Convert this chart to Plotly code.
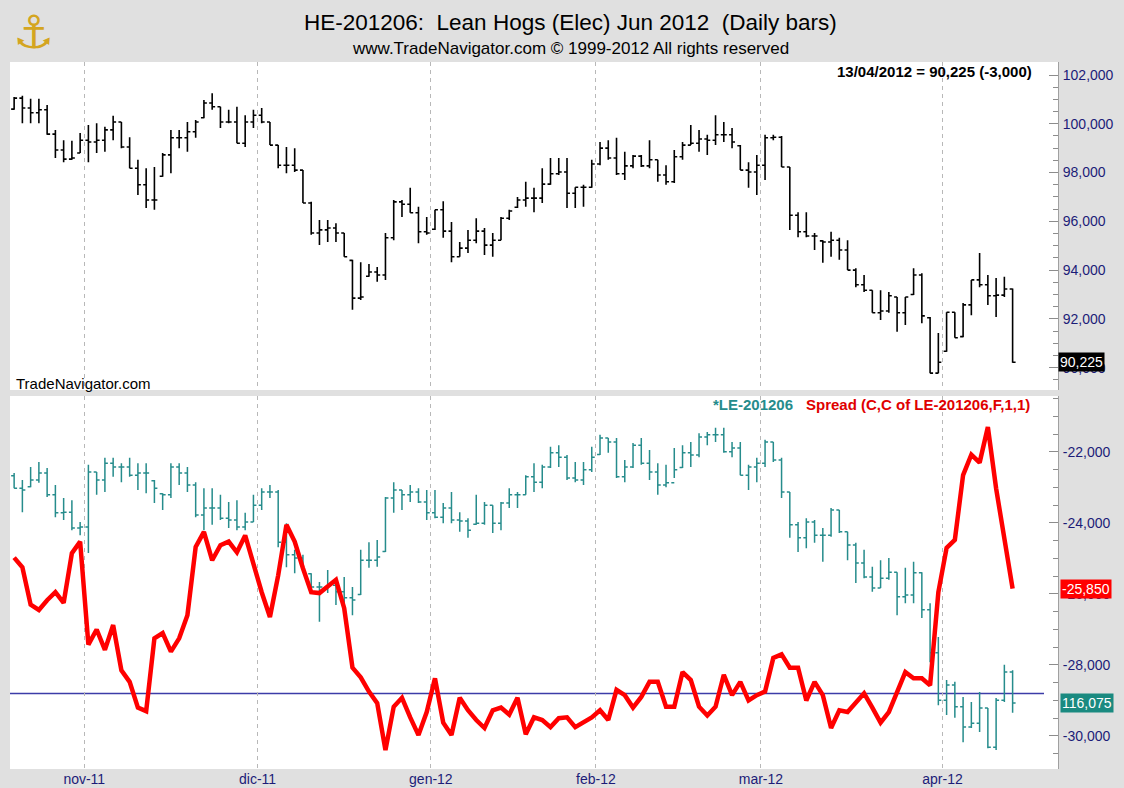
import plotly.graph_objects as go
import pandas as pd

# ---------------- data ----------------
START_DATE = "2011-10-19"
END_DATE = "2012-04-13"
HOLIDAYS = ["2011-11-24", "2011-12-26", "2012-01-02", "2012-01-16", "2012-02-20", "2012-04-06"]
MONTH_LABELS = ["nov-11", "dic-11", "gen-12", "feb-12", "mar-12", "apr-12"]

HE_OPEN = [100600, 101050, 100650, 100450, 100575, 99575, 98925, 98550, 98800, 99325,
           99250, 99325, 99750, 100075, 99050, 98175, 97500, 96875, 97850, 98725,
           99425, 99425, 99675, 100250, 100850, 100700, 100075, 100075, 99200, 100075,
           100350, 100075, 99125, 98300, 98300, 98100, 96750, 95525, 95650, 95725,
           95525, 94400, 92850, 93750, 93925, 93800, 95325, 96800, 96700, 96350,
           95575, 95675, 96475, 95600, 94550, 94900, 95225, 95600, 95025, 95225,
           96125, 96575, 96875, 96950, 96950, 97525, 97950, 98025, 97150, 97400,
           97400, 98350, 99000, 98600, 97950, 98275, 98675, 98275, 98525, 97900,
           97625, 98650, 99125, 99200, 99375, 99325, 99550, 99550, 99100, 98100,
           98025, 98300, 99425, 99450, 98225, 96250, 95575, 95400, 95200, 95150,
           95225, 94825, 94000, 93400, 93175, 92250, 92325, 92900, 92250, 93000,
           93800, 92050, 89775, 90675, 92275, 91275, 92575, 93600, 93400, 92950,
           92975, 93225]
HE_HIGH = [101100, 101150, 101025, 101025, 100775, 99750, 99325, 99300, 99625, 99950,
           100025, 99875, 100325, 100075, 99450, 98525, 98175, 98225, 98800, 99750,
           99750, 100075, 100150, 100975, 101250, 100700, 100575, 100700, 100350, 100575,
           100650, 100075, 99125, 99050, 99000, 98100, 96800, 96050, 96050, 95925,
           95525, 94425, 94325, 94250, 94125, 95525, 96875, 96875, 97375, 96600,
           96175, 96475, 96825, 95975, 95150, 95650, 96125, 95725, 95525, 96175,
           96475, 97000, 97625, 97375, 98175, 98600, 98600, 98600, 97400, 97500,
           98525, 99250, 99325, 99425, 98850, 98725, 98725, 99325, 98525, 98300,
           98925, 99250, 99950, 99750, 99550, 100350, 100075, 99825, 99125, 98425,
           98725, 99550, 99550, 99500, 98225, 96375, 96375, 95525, 95225, 95575,
           95325, 95225, 94075, 93800, 93175, 93175, 93100, 92900, 92900, 94075,
           93875, 92075, 91425, 92275, 92275, 92650, 93600, 94700, 93800, 93675,
           93725, 93250]
HE_LOW = [100575, 100025, 100025, 100025, 99550, 98600, 98425, 98525, 98800, 98425,
          98800, 98850, 99325, 99000, 98175, 97075, 96550, 96475, 97825, 97975,
          99000, 98850, 99425, 100225, 100575, 99825, 100025, 99200, 99050, 99825,
          100025, 99125, 98175, 97975, 98025, 96750, 95450, 95025, 95150, 95150,
          94550, 92375, 92775, 93725, 93525, 93600, 95225, 96175, 96350, 95100,
          95450, 95650, 95325, 94325, 94550, 94700, 95100, 94625, 94550, 95225,
          96050, 96550, 96600, 96375, 96750, 97500, 97900, 96550, 96550, 96600,
          97375, 98300, 98525, 97900, 97700, 98175, 98225, 98175, 97625, 97500,
          97575, 98525, 99125, 98850, 98725, 99125, 99250, 99000, 98100, 97375,
          97075, 97700, 99325, 98225, 95650, 95350, 95350, 94825, 94300, 94550,
          94425, 94000, 93300, 93100, 92250, 91950, 92250, 91475, 91750, 92975,
          91825, 89775, 89775, 90650, 91225, 91250, 92150, 93300, 92575, 92075,
          92900, 90200]
HE_CLOSE = [101050, 100650, 100450, 100575, 99575, 98925, 98550, 98600, 99325, 99250,
            99325, 99750, 100075, 99050, 98175, 97500, 96875, 96875, 98725, 99425,
            99425, 99675, 100075, 100850, 100700, 100075, 100075, 99200, 100075, 100350,
            100075, 99125, 98300, 98300, 98100, 96750, 95525, 95650, 95725, 95525,
            94550, 92850, 92900, 93925, 93800, 95325, 96800, 96700, 96350, 95575,
            95525, 96475, 95600, 94550, 94900, 95225, 95600, 95025, 95225, 96125,
            96425, 96875, 96950, 96950, 97525, 97950, 98025, 97150, 97400, 97400,
            98350, 99000, 98600, 97950, 98275, 98675, 98275, 98525, 97900, 97625,
            98650, 99125, 99200, 99375, 99325, 99550, 99550, 99250, 98100, 98025,
            98300, 99425, 99450, 98225, 96250, 95575, 95400, 95400, 95150, 95225,
            94825, 94000, 93400, 93175, 92250, 92325, 92950, 92250, 92900, 93800,
            92125, 89775, 90225, 92275, 91225, 92575, 93600, 93400, 92950, 92975,
            93225, 90225]

LE_OPEN = [126500, 125925, 126000, 126300, 126625, 125625, 124800, 124825, 124100, 124150,
           126675, 126300, 127075, 126900, 126900, 126525, 126625, 126275, 125675, 125625,
           126900, 126625, 126075, 124700, 125025, 125025, 124550, 124475, 124150, 124375,
           125150, 125750, 125750, 123450, 122875, 122725, 122000, 121400, 121400, 121475,
           121175, 120900, 121050, 122625, 122625, 123025, 125475, 125850, 125625, 125750,
           125300, 124800, 124600, 125025, 124475, 124425, 124275, 124325, 125150, 124325,
           125250, 125625, 125625, 126450, 126200, 126900, 127550, 127350, 126400, 126300,
           126775, 127475, 128225, 128050, 126450, 126900, 127900, 127075, 126675, 126075,
           126175, 126875, 127550, 127450, 128275, 128375, 128375, 127600, 127775, 126525,
           126900, 127075, 128050, 127225, 125750, 124250, 123650, 124375, 123775, 123775,
           124925, 123925, 123325, 122500, 121850, 121350, 121800, 122075, 120950, 121025,
           122050, 120350, 118375, 116200, 116900, 115900, 114975, 115150, 115850, 114050,
           116200, 117500]
LE_HIGH = [126625, 126300, 126900, 127125, 126850, 126075, 125475, 125375, 124375, 127000,
           126675, 127325, 127325, 127075, 127325, 127075, 127075, 126300, 125700, 127075,
           127075, 126900, 126200, 125925, 125925, 125625, 125300, 125375, 124800, 125625,
           125925, 126075, 125850, 124325, 123100, 122875, 122025, 121625, 122175, 121725,
           121850, 121400, 123100, 123450, 123550, 125525, 126200, 125850, 126075, 125925,
           125850, 125850, 125250, 125750, 124825, 124550, 125625, 125300, 125150, 125300,
           125925, 125750, 126525, 127075, 127000, 127825, 127900, 127450, 127125, 127125,
           127825, 128375, 128225, 128225, 127225, 128000, 128225, 127675, 127075, 127000,
           127775, 127900, 128050, 128450, 128500, 128700, 128700, 128050, 128050, 127000,
           127325, 128150, 128050, 127325, 125750, 124375, 124550, 124475, 124100, 125025,
           124925, 123925, 123425, 123100, 122325, 122625, 122725, 122075, 122275, 122550,
           122075, 120650, 119100, 117125, 117050, 116350, 116125, 116575, 115850, 116300,
           117825, 117575]
LE_LOW = [125925, 124825, 125975, 126175, 125525, 124600, 124475, 124000, 123775, 122950,
          125625, 125750, 126450, 126200, 126450, 125850, 125700, 125250, 124925, 125475,
          126075, 125750, 124600, 124000, 124250, 124475, 124100, 124000, 124000, 124375,
          124925, 125475, 123225, 122300, 122025, 122075, 121350, 119800, 121125, 120575,
          120200, 120100, 121025, 122275, 122325, 123000, 124800, 124925, 125300, 125250,
          124475, 124550, 124325, 124325, 123925, 123650, 124250, 124250, 123875, 124000,
          125025, 125025, 125625, 125750, 125925, 126850, 126900, 126300, 126200, 126075,
          126675, 127450, 127550, 126400, 126200, 126850, 127000, 126300, 125625, 125975,
          126400, 126850, 126900, 127350, 127900, 128050, 127550, 127350, 126525, 125850,
          126200, 126900, 127125, 125475, 123650, 123000, 123175, 123425, 122550, 123700,
          123875, 122625, 121575, 121800, 121175, 121350, 121725, 120100, 120650, 120650,
          119975, 117950, 115975, 115525, 115400, 114275, 114925, 114750, 114000, 113925,
          116125, 115625]
LE_CLOSE = [125925, 125850, 126300, 126625, 125625, 124800, 124825, 124100, 124150, 126675,
            126300, 127075, 126900, 126900, 126525, 126625, 126625, 125925, 125625, 126900,
            126625, 126075, 124700, 125025, 125025, 124550, 124475, 124150, 124375, 125150,
            125750, 125750, 123450, 122875, 122725, 122075, 121400, 121400, 121475, 121175,
            120900, 120800, 122625, 122625, 122775, 125475, 125850, 125625, 125750, 125300,
            124800, 124600, 125025, 124475, 124425, 124000, 124325, 125150, 124325, 125250,
            125625, 125625, 126450, 126200, 126900, 127550, 127350, 126400, 126300, 126775,
            127350, 128225, 128050, 126450, 126900, 127900, 127075, 126675, 126075, 126175,
            126775, 127550, 127450, 128275, 128375, 128375, 127600, 127775, 126525, 126900,
            127075, 128050, 127225, 125750, 124250, 123650, 124375, 123775, 123775, 124925,
            123925, 123325, 122500, 121850, 121350, 121800, 122075, 120950, 121025, 122050,
            120350, 118375, 116200, 116900, 115900, 114975, 115150, 115850, 114050, 116200,
            117500, 116075]

SPREAD = [-24975, -25250, -26300, -26450, -26175, -25950, -26250, -24850, -24525, -27425,
          -27000, -27575, -26875, -28150, -28475, -29200, -29300, -27250, -27100, -27625,
          -27250, -26600, -24675, -24250, -25050, -24625, -24525, -24825, -24350, -25175,
          -25950, -26650, -25475, -24050, -24525, -25275, -25950, -25975, -25800, -25600,
          -26400, -28075, -28350, -28750, -29075, -30400, -29175, -28925, -29475, -29975,
          -29325, -28375, -29625, -29975, -28925, -29275, -29550, -29775, -29275, -29200,
          -29400, -28925, -29950, -29475, -29550, -29750, -29500, -29475, -29750, -29625,
          -29475, -29275, -29550, -28700, -28850, -29200, -28900, -28475, -28475, -29175,
          -29175, -28200, -28425, -29175, -29425, -29175, -28275, -28850, -28475, -29000,
          -28850, -28750, -27800, -27700, -28075, -28075, -29000, -28475, -28850, -29775,
          -29275, -29325, -29075, -28800, -29200, -29625, -29325, -28800, -28200, -28375,
          -28375, -28575, -25950, -24700, -24475, -22650, -22075, -22300, -21300, -23025,
          -24425, -25850]

LEVEL_LINE = -28800

HE_TICKS = [90000, 92000, 94000, 96000, 98000, 100000, 102000]
SPREAD_TICKS = [-30000, -28000, -26000, -24000, -22000]

HE_RANGE = [89085, 102533]
SPREAD_RANGE = [-30930, -20423]
LE_RANGE = [113048, 130157]

# ---------------- derived categories ----------------
dates = [d for d in pd.bdate_range(START_DATE, END_DATE) if d.strftime("%Y-%m-%d") not in HOLIDAYS]
xidx = list(range(len(dates)))
month_starts = [i for i in range(1, len(dates)) if dates[i].month != dates[i - 1].month]
grid_pos = [i - 0.5 for i in month_starts]
date_txt = [d.strftime("%d/%m/%Y") for d in dates]

FONT = "Liberation Sans, Arial, sans-serif"
NAVY = "#1c1c78"
TEAL = "#268c8c"
RED = "#ff0000"

W, H = 1124, 788
# plot area in pixels (for placing texts)
L, R, T, B = 10, 1058, 62, 769
def px(xp):
    return (xp - L) / (R - L)
def py(yp):
    return (B - yp) / (B - T)

fig = go.Figure()

fig.add_trace(go.Ohlc(
    x=xidx, open=HE_OPEN, high=HE_HIGH, low=HE_LOW, close=HE_CLOSE,
    xaxis="x", yaxis="y", tickwidth=0.36,
    increasing=dict(line=dict(color="black", width=1.6)),
    decreasing=dict(line=dict(color="black", width=1.6)),
    text=date_txt, showlegend=False, name="HE-201206"))

fig.add_trace(go.Ohlc(
    x=xidx, open=LE_OPEN, high=LE_HIGH, low=LE_LOW, close=LE_CLOSE,
    xaxis="x2", yaxis="y2", tickwidth=0.36,
    increasing=dict(line=dict(color=TEAL, width=1.5)),
    decreasing=dict(line=dict(color=TEAL, width=1.5)),
    text=date_txt, showlegend=False, name="*LE-201206"))

fig.add_trace(go.Scatter(
    x=xidx, y=SPREAD, xaxis="x2", yaxis="y3", mode="lines",
    line=dict(color=RED, width=4.5), showlegend=False, name="Spread"))

xcommon = dict(range=[-0.5, 126.5], tickmode="array", tickvals=grid_pos,
               showgrid=True, gridcolor="#b8b8b8", griddash="4px,4px", gridwidth=1,
               zeroline=False, showline=False, ticks="", rangeslider=dict(visible=False),
               fixedrange=True, automargin=False)

ycommon = dict(side="right", ticks="inside", ticklen=9, tickcolor="#8c8c8c", tickwidth=1,
               minor=dict(ticks="inside", ticklen=5, tickcolor="#8c8c8c", dtick=500, tick0=0),
               showgrid=False, zeroline=False, showline=True, linecolor="#a0a0a0", linewidth=1,
               tickfont=dict(family=FONT, size=14, color=NAVY), ticklabelstandoff=1,
               automargin=False)

top_dom = [py(390), 1.0]
bot_dom = [0.0, py(396)]

fig.update_layout(
    width=W, height=H, autosize=False,
    margin=dict(l=L, r=W - R, t=T, b=H - B, autoexpand=False),
    paper_bgcolor="#e0e0e0", plot_bgcolor="white",
    font=dict(family=FONT, color="black"),
    xaxis=dict(domain=[0, 1], anchor="y", showticklabels=False, **xcommon),
    xaxis2=dict(domain=[0, 1], anchor="y2", matches="x", showticklabels=True,
                ticktext=MONTH_LABELS, ticklabelstandoff=0,
                tickfont=dict(family=FONT, size=14, color=NAVY), **xcommon),
    yaxis=dict(domain=top_dom, anchor="x", range=HE_RANGE, tickmode="array",
               tickvals=HE_TICKS, ticktext=[f"{v:,}" for v in HE_TICKS], **ycommon),
    yaxis2=dict(domain=bot_dom, anchor="x2", range=LE_RANGE, visible=False, fixedrange=True,
                automargin=False),
    yaxis3=dict(overlaying="y2", anchor="x2", range=SPREAD_RANGE, tickmode="array",
                tickvals=SPREAD_TICKS, ticktext=[f"{v:,}" for v in SPREAD_TICKS], **ycommon),
    showlegend=False,
)

fig.add_shape(type="line", xref="paper", x0=0, x1=px(1044), yref="y3",
              y0=LEVEL_LINE, y1=LEVEL_LINE, line=dict(color="#3c3ca8", width=1.5), layer="below")

ann = [
    dict(text="HE-201206:\u00a0 Lean Hogs (Elec) Jun 2012\u00a0 (Daily bars)", x=px(570), y=py(22),
         xanchor="center", yanchor="middle", font=dict(size=22.5, color="black")),
    dict(text="www.TradeNavigator.com © 1999-2012 All rights reserved", x=px(570), y=py(49),
         xanchor="center", yanchor="middle", font=dict(size=17, color="black")),
    dict(text="\u2693", x=px(33), y=py(32), xanchor="center", yanchor="middle",
         font=dict(family="DejaVu Sans", size=46, color="#d4a520")),
    dict(text="<b>13/04/2012 = 90,225 (-3,000)</b>", x=px(1034), y=py(71),
         xanchor="right", yanchor="middle", font=dict(size=15, color="black")),
    dict(text="TradeNavigator.com", x=px(14), y=py(383), xanchor="left", yanchor="middle",
         font=dict(size=15, color="black")),
    dict(text="<b>*LE-201206</b>", x=px(711), y=py(404), xanchor="left", yanchor="middle",
         font=dict(size=15, color=TEAL)),
    dict(text="<b>Spread (C,C of LE-201206,F,1,1)</b>", x=px(804), y=py(404), xanchor="left",
         yanchor="middle", font=dict(size=15, color="#e00000")),
]
for a in ann:
    fig.add_annotation(xref="paper", yref="paper", showarrow=False, **a)

# last-value boxes on the right axis
fig.add_annotation(xref="paper", x=1.0, yref="y", y=HE_CLOSE[-1], text=f"{HE_CLOSE[-1]:,}",
                   xanchor="left", yanchor="middle", showarrow=False, bgcolor="black",
                   font=dict(size=14, color="white"), borderpad=1)
fig.add_annotation(xref="paper", x=1.0, yref="y3", y=SPREAD[-1], text=f"{SPREAD[-1]:,}",
                   xanchor="left", yanchor="middle", showarrow=False, bgcolor=RED,
                   font=dict(size=14, color="white"), borderpad=1, xshift=2)
fig.add_annotation(xref="paper", x=1.0, yref="y2", y=LE_CLOSE[-1], text=f"{LE_CLOSE[-1]:,}",
                   xanchor="left", yanchor="middle", showarrow=False, bgcolor="#1a8a80",
                   font=dict(size=14, color="white"), borderpad=1, xshift=2)

fig.write_html(
    "out.html",
    config={"displayModeBar": False, "responsive": False},
    post_script="document.body.style.margin='0px';document.body.style.overflow='hidden';",
)
